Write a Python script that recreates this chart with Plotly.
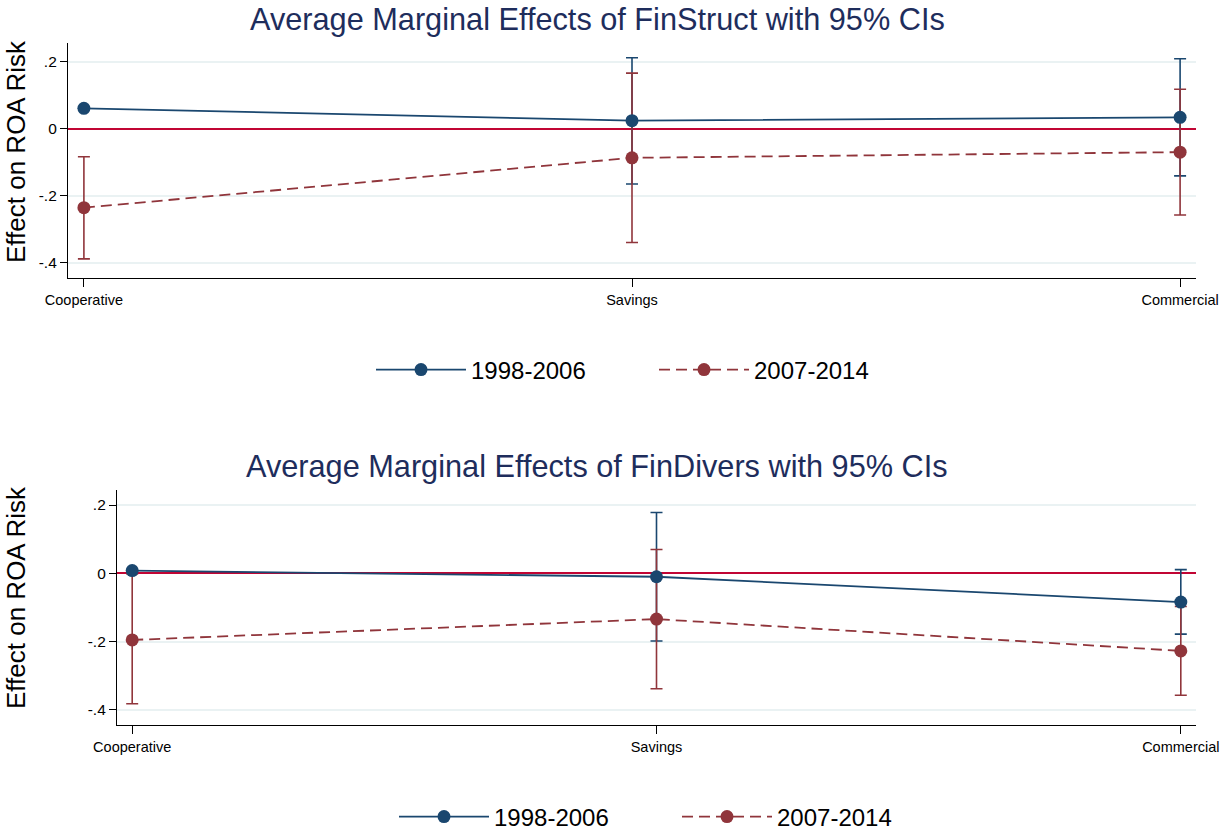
import plotly.graph_objects as go

categories = ["Cooperative", "Savings", "Commercial"]
series_names = ["1998-2006", "2007-2014"]

# Panel 1: FinStruct
p1_blue_est = [0.061, 0.024, 0.034]
p1_blue_lo = [None, -0.165, -0.141]
p1_blue_hi = [None, 0.212, 0.209]
p1_red_est = [-0.236, -0.087, -0.070]
p1_red_lo = [-0.389, -0.340, -0.258]
p1_red_hi = [-0.084, 0.166, 0.118]

# Panel 2: FinDivers
p2_blue_est = [0.008, -0.010, -0.084]
p2_blue_lo = [None, -0.198, -0.178]
p2_blue_hi = [None, 0.178, 0.011]
p2_red_est = [-0.195, -0.134, -0.227]
p2_red_lo = [-0.382, -0.338, -0.357]
p2_red_hi = [-0.002, 0.070, -0.097]

titles = ["Average Marginal Effects of FinStruct with 95% CIs",
          "Average Marginal Effects of FinDivers with 95% CIs"]
ytitle = "Effect on ROA Risk"
ytick_vals = [0.2, 0, -0.2, -0.4]
ytick_text = [".2", "0", "-.2", "-.4"]

BLUE = "#1a476f"
RED = "#90353b"
ZERO = "#c10534"
GRID = "#eaf2f3"
TITLE = "#1e2d5c"
FONT = "Liberation Sans, Arial, sans-serif"

W, H = 1220, 833
OFF = 0  # page body margin removed via post_script
fig = go.Figure()

def dif(a, b):
    return [None if (x is None or y is None) else x - y for x, y in zip(a, b)]

panels = [
    (p1_blue_est, p1_blue_lo, p1_blue_hi, p1_red_est, p1_red_lo, p1_red_hi, "x", "y", "legend"),
    (p2_blue_est, p2_blue_lo, p2_blue_hi, p2_red_est, p2_red_lo, p2_red_hi, "x2", "y2", "legend2"),
]

for (be, bl, bh, re_, rl, rh, xa, ya, lg) in panels:
    # CIs first
    for est, lo, hi, col in [(be, bl, bh, BLUE), (re_, rl, rh, RED)]:
        fig.add_trace(go.Scatter(
            x=categories, y=est, mode="markers", xaxis=xa, yaxis=ya,
            marker=dict(size=1, opacity=0), showlegend=False, hoverinfo="skip",
            error_y=dict(type="data", symmetric=False, array=dif(hi, est),
                         arrayminus=dif(est, lo), color=col, thickness=1.6, width=6)))
    fig.add_trace(go.Scatter(
        x=categories, y=be, mode="lines+markers", xaxis=xa, yaxis=ya, name=series_names[0],
        line=dict(color=BLUE, width=1.8), marker=dict(color=BLUE, size=13), legend=lg))
    fig.add_trace(go.Scatter(
        x=categories, y=re_, mode="lines+markers", xaxis=xa, yaxis=ya, name=series_names[1],
        line=dict(color=RED, width=1.8, dash="11px,6px"), marker=dict(color=RED, size=13),
        legend=lg))

def px_x(p):
    return (p - OFF) / W

def px_y(p):
    return 1 - (p - OFF) / H

xcommon = dict(type="category", showgrid=False, zeroline=False, showline=True, automargin=False,
               linecolor="black", linewidth=1.2, ticks="outside", ticklen=8,
               tickcolor="black", tickfont=dict(size=14.5, family=FONT, color="black"))
ycommon = dict(showgrid=True, gridcolor=GRID, gridwidth=1.5,
               zeroline=True, zerolinecolor=ZERO, zerolinewidth=2,
               showline=True, automargin=False,
               linecolor="black", linewidth=1.2, ticks="outside", ticklen=7,
               tickcolor="black", tickvals=ytick_vals, ticktext=ytick_text,
               tickfont=dict(size=15.5, family=FONT, color="black"))

legend_common = dict(orientation="h", xanchor="left", yanchor="middle",
                     font=dict(size=24, family=FONT, color="black"),
                     itemwidth=90, entrywidth=178, bgcolor="rgba(0,0,0,0)")

fig.update_layout(
    width=W, height=H, margin=dict(l=0, r=0, t=0, b=0, autoexpand=False),
    plot_bgcolor="white", paper_bgcolor="white", font=dict(family=FONT),
    xaxis=dict(xcommon, domain=[px_x(68), px_x(1196)], range=[-0.029, 2.029], anchor="y"),
    yaxis=dict(ycommon, domain=[px_y(278), px_y(43)], range=[-0.446, 0.256], anchor="x"),
    xaxis2=dict(xcommon, domain=[px_x(117), px_x(1196)], range=[-0.029, 2.029], anchor="y2"),
    yaxis2=dict(ycommon, domain=[px_y(725), px_y(490)], range=[-0.444, 0.244], anchor="x2"),
    legend=dict(legend_common, x=px_x(371), y=px_y(370)),
    legend2=dict(legend_common, x=px_x(394), y=px_y(817)),
)

ann = dict(xref="paper", yref="paper", showarrow=False, xanchor="center", yanchor="middle")
fig.add_annotation(ann, text=titles[0], x=px_x(597), y=px_y(20),
                   font=dict(size=30.7, family=FONT, color=TITLE))
fig.add_annotation(ann, text=titles[1], x=px_x(597), y=px_y(466),
                   font=dict(size=30.7, family=FONT, color=TITLE))
fig.add_annotation(ann, text=ytitle, x=px_x(16), y=px_y(152), textangle=-90,
                   font=dict(size=26, family=FONT, color="black"))
fig.add_annotation(ann, text=ytitle, x=px_x(16), y=px_y(598), textangle=-90,
                   font=dict(size=26, family=FONT, color="black"))

fig.write_html("out.html", config={"displayModeBar": False},
               post_script="document.body.style.margin='0px';")
